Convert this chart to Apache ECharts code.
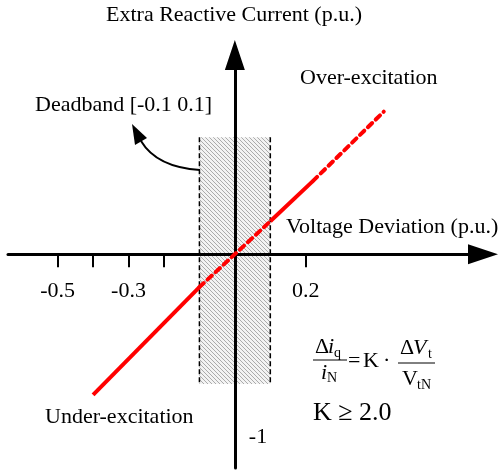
<!DOCTYPE html>
<html lang="en">
<head>
<meta charset="UTF-8">
<script src="https://cdn.jsdelivr.net/npm/echarts@6/dist/echarts.min.js"></script>
<title>Deadband</title>
<style>
*{margin:0;padding:0}
html,body{width:100%;height:100%;background:#fff}
#main{width:500px;height:473px}
</style>
</head>
<body>
<div id="main"></div>
<script type="text/javascript">
// values
var xTicks = [-0.5, -0.4, -0.3, -0.2, 0.2];
var xTickLabels = [-0.5, -0.3, 0.2];
var yTickLabels = [-1];
var bandX = [-0.1, 0.1];
var bandY = [-0.71, 0.64];
var underX = [-0.4, -0.1];
var underY = [-0.77, -0.18];
var deadX = [-0.1, 0.1];
var deadY = [-0.18, 0.18];
var overX = [0.1, 0.22];
var overY = [0.18, 0.4];
var overDashX = [0.22, 0.42];
var overDashY = [0.4, 0.78];

var FONT = '"Liberation Serif", "Times New Roman", serif';
var X_MIN = -0.64, X_MAX = 0.7, Y_MIN = -1.17, Y_MAX = 1.09;

function pairs(xs, ys) {
  var out = [];
  for (var i = 0; i < xs.length; i++) out.push([xs[i], ys[i]]);
  return out;
}

// hatch for the deadband
var hatch = document.createElement('canvas');
hatch.width = 4; hatch.height = 4;
var ctx = hatch.getContext('2d');
ctx.fillStyle = '#f3f3f3';
ctx.fillRect(0, 0, 4, 4);
ctx.strokeStyle = '#ababab';
ctx.lineWidth = 1;
ctx.beginPath();
ctx.moveTo(-1, -1); ctx.lineTo(5, 5);
ctx.moveTo(-1, 3); ctx.lineTo(1, 5);
ctx.moveTo(3, -1); ctx.lineTo(5, 1);
ctx.stroke();

function txt(x, y, s, size, extra) {
  var st = { text: s, fill: '#000', font: (extra && extra.italic ? 'italic ' : '') + size + 'px ' + FONT,
    align: (extra && extra.align) || 'left', verticalAlign: 'middle' };
  return { type: 'text', x: x, y: y, z: 10, style: st };
}

var chart = echarts.init(document.getElementById('main'));

function redLine(xs, ys, dashed) {
  return {
    type: 'line', symbol: 'none', z: 3, data: pairs(xs, ys),
    lineStyle: { color: '#ff0000', width: 4, type: dashed ? [6, 5] : 'solid', cap: dashed ? 'round' : 'butt' }
  };
}

var option = {
  animation: false,
  grid: { left: 8, right: 17, top: 55, bottom: 5, outerBoundsMode: 'none', containLabel: false },
  xAxis: {
    type: 'value', min: X_MIN, max: X_MAX, z: 1, position: 'bottom',
    axisLine: { show: true, onZero: false, symbol: ['none', 'triangle'], symbolSize: [20, 30],
      lineStyle: { color: '#000', width: 3 } },
    axisTick: { show: true, customValues: xTicks, length: 13, lineStyle: { color: '#000', width: 2 } },
    axisLabel: { customValues: xTickLabels, margin: 26, fontFamily: FONT, fontSize: 22, color: '#000' },
    splitLine: { show: false }
  },
  yAxis: {
    type: 'value', min: Y_MIN, max: Y_MAX, z: 1, position: 'left',
    axisLine: { show: true, onZero: false, symbol: ['none', 'triangle'], symbolSize: [20, 30],
      lineStyle: { color: '#000', width: 3 } },
    axisTick: { show: false },
    axisLabel: { inside: true, customValues: yTickLabels, margin: 14, fontFamily: FONT, fontSize: 22, color: '#000' },
    splitLine: { show: false }
  },
  series: [
    {
      type: 'custom', z: 0,
      data: [[bandX[0], bandX[1], bandY[0], bandY[1]]],
      encode: { x: [0, 1], y: [2, 3] },
      renderItem: function (params, api) {
        var p0 = api.coord([api.value(0), api.value(3)]);
        var p1 = api.coord([api.value(1), api.value(2)]);
        var dash = { stroke: '#000', lineWidth: 1.5, lineDash: [5, 3] };
        return {
          type: 'group', children: [
            { type: 'rect', shape: { x: p0[0], y: p0[1], width: p1[0] - p0[0], height: p1[1] - p0[1] },
              style: { fill: { image: hatch, repeat: 'repeat' } } },
            { type: 'line', shape: { x1: p0[0], y1: p0[1], x2: p0[0], y2: p1[1] }, style: dash },
            { type: 'line', shape: { x1: p1[0], y1: p0[1], x2: p1[0], y2: p1[1] }, style: dash }
          ]
        };
      }
    },
    redLine(underX, underY, false),
    redLine(deadX, deadY, true),
    redLine(overX, overY, false),
    redLine(overDashX, overDashY, true)
  ],
  graphic: [
    txt(234, 15, 'Extra Reactive Current (p.u.)', 22, { align: 'center' }),
    txt(300, 78, 'Over-excitation', 22),
    txt(35, 105, 'Deadband [-0.1 0.1]', 22),
    txt(286, 227, 'Voltage Deviation (p.u.)', 22),
    txt(45, 417, 'Under-excitation', 22),
    // arrow pointing at the deadband
    { type: 'bezierCurve', z: 10,
      shape: { x1: 200, y1: 170, cpx1: 168, cpy1: 168, cpx2: 150, cpy2: 156, x2: 141, y2: 141 },
      style: { stroke: '#000', lineWidth: 2, fill: null } },
    { type: 'polygon', z: 10, shape: { points: [[132, 124], [147, 138], [135, 145]] }, style: { fill: '#000' } },
    // formula
    txt(315, 347, '\u0394', 22),
    txt(328, 347, 'i', 22, { italic: true }),
    txt(334, 353, 'q', 14),
    { type: 'line', z: 10, shape: { x1: 313, y1: 360, x2: 347, y2: 360 }, style: { stroke: '#000', lineWidth: 1 } },
    txt(321, 373, 'i', 22, { italic: true }),
    txt(327, 378, 'N', 14),
    txt(348, 361, '=', 22),
    txt(363, 361, 'K', 22),
    txt(383, 361, '\u00b7', 22),
    txt(400, 348, '\u0394', 22),
    txt(413, 348, 'V', 22, { italic: true }),
    txt(428, 354, 't', 14),
    { type: 'line', z: 10, shape: { x1: 398, y1: 363, x2: 435, y2: 363 }, style: { stroke: '#000', lineWidth: 1 } },
    txt(402, 379, 'V', 22),
    txt(417, 385, 'tN', 14),
    txt(313, 413, 'K \u2265 2.0', 26)
  ]
};
chart.setOption(option);

// move both axes onto the origin, measured through the grid's own scales
var zero = chart.convertToPixel({ gridIndex: 0 }, [0, 0]);
var corner = chart.convertToPixel({ gridIndex: 0 }, [X_MIN, Y_MIN]);
chart.setOption({
  xAxis: { offset: zero[1] - corner[1] },
  yAxis: { offset: corner[0] - zero[0] }
});
</script>
</body>
</html>
